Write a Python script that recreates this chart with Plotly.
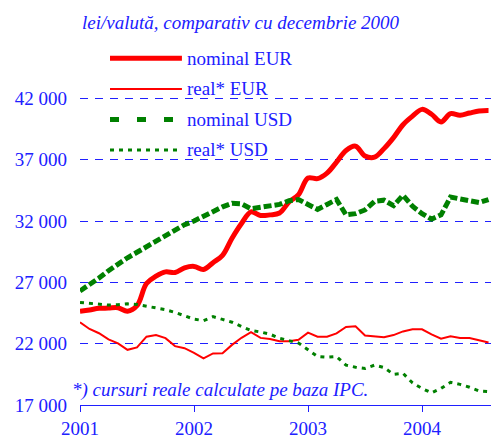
import plotly.graph_objects as go

# ---- data (monthly, Jan 2001 .. Aug 2004) ----
month_index = list(range(44))
nominal_eur = [24650, 24750, 24880, 24900, 24930, 24650, 25100, 26900, 27500, 27850,
               27800, 28180, 28300, 28050, 28600, 29200, 30600, 31800, 32750, 32450,
               32500, 32650, 33550, 34150, 35500, 35450, 35900, 36800, 37750, 38100,
               37300, 37200, 37900, 38800, 39850, 40550, 41100, 40700, 40080, 40750,
               40620, 40800, 40970, 41000]
real_eur = [23750, 23200, 22850, 22350, 22030, 21500, 21700, 22570, 22710, 22450,
            21800, 21630, 21250, 20800, 21200, 21220, 21900, 22480, 22930, 22470,
            22380, 22200, 22200, 22320, 22900, 22570, 22570, 22840, 23360, 23410,
            22660, 22570, 22520, 22700, 23000, 23170, 23170, 22760, 22400, 22600,
            22460, 22460, 22300, 22100]
nominal_usd = [26300, 26800, 27350, 27950, 28500, 29000, 29450, 29900, 30350, 30800,
               31250, 31700, 32000, 32400, 32750, 33150, 33450, 33400, 33000, 33150,
               33200, 33350, 33650, 33750, 33350, 32950, 33350, 33750, 32500, 32600,
               32900, 33600, 33700, 33250, 34100, 33200, 32600, 32150, 32500, 33950,
               33800, 33600, 33500, 33750]
real_usd = [25360, 25300, 25250, 25150, 25180, 25250, 25200, 25050, 24900, 24770,
            24550, 24300, 24000, 23880, 24200, 23980, 23750, 23400, 23080, 22950,
            22770, 22450, 22230, 22050, 21500, 20960, 20900, 20950, 20250, 20080,
            19980, 20250, 20050, 19500, 19580, 18800, 18350, 17990, 18350, 18850,
            18680, 18450, 18150, 18100]

series_names = ["nominal EUR", "real* EUR", "nominal USD", "real* USD"]
year_ticks = [2001, 2002, 2003, 2004]
year_labels = ["2001", "2002", "2003", "2004"]
y_ticks = [17000, 22000, 27000, 32000, 37000, 42000, 47000]
y_labels = ["17 000", "22 000", "27 000", "32 000", "37 000", "42 000", ""]
title_text = "lei/valută, comparativ cu decembrie 2000"
note_text = "*) cursuri reale calculate pe baza IPC."

x_years = [2001 + m / 12 for m in month_index]

BLUE = "#2020ff"
RED = "#ff0000"
GREEN = "#008000"
FONT = "Liberation Serif"

styles = [
    dict(color=RED, width=5, dash="solid", shape="spline"),
    dict(color=RED, width=2, dash="solid", shape="linear"),
    dict(color=GREEN, width=5, dash="8px,3px", shape="linear"),
    dict(color=GREEN, width=3, dash="4px,5px", shape="linear"),
]
legend_dash = ["solid", "solid", "9px,18px", "4px,5px"]

fig = go.Figure()
for name, vals, st in zip(series_names, [nominal_eur, real_eur, nominal_usd, real_usd], styles):
    fig.add_trace(go.Scatter(
        x=x_years, y=vals, mode="lines", name=name, hoverinfo="skip",
        line=dict(color=st["color"], width=st["width"], dash=st["dash"], shape=st["shape"]),
    ))

# manual legend (white box covering gridlines)
shapes = [dict(type="rect", xref="paper", yref="paper", x0=0.0195, x1=0.557, y0=0.573, y1=0.978,
               fillcolor="white", line=dict(width=0), layer="between")]
annotations = []
rows = [0.942, 0.859, 0.776, 0.693]
for name, st, ld, yr in zip(series_names, styles, legend_dash, rows):
    shapes.append(dict(type="line", xref="paper", yref="paper", x0=0.073, x1=0.248, y0=yr, y1=yr,
                       line=dict(color=st["color"], width=st["width"], dash=ld), layer="above"))
    annotations.append(dict(xref="paper", yref="paper", x=0.255, y=yr, xanchor="left", yanchor="middle",
                            text=name, showarrow=False, font=dict(family=FONT, size=19, color=BLUE)))

annotations.append(dict(xref="paper", yref="paper", x=0.0, y=1.0, xanchor="left", yanchor="bottom",
                        yshift=2, text="<i>" + title_text + "</i>", showarrow=False,
                        font=dict(family=FONT, size=19, color=BLUE)))
annotations.append(dict(xref="paper", yref="paper", x=-0.0243, y=0.04, xanchor="left", yanchor="middle",
                        text="<i>" + note_text + "</i>", showarrow=False,
                        font=dict(family=FONT, size=19, color=BLUE)))

fig.update_layout(
    width=491, height=439,
    margin=dict(l=80, r=0, t=37, b=32),
    plot_bgcolor="white", paper_bgcolor="white",
    showlegend=False,
    font=dict(family=FONT, size=19, color=BLUE),
    shapes=shapes, annotations=annotations,
    xaxis=dict(range=[2001, 2004.605], tickvals=year_ticks, ticktext=year_labels,
               showgrid=False, zeroline=False, showline=True, linecolor=BLUE, linewidth=1,
               ticks="outside", ticklen=6, tickcolor=BLUE, tickwidth=1,
               tickfont=dict(family=FONT, size=19, color=BLUE)),
    yaxis=dict(range=[17000, 47000], tickvals=y_ticks, ticktext=y_labels,
               showgrid=True, gridcolor=BLUE, gridwidth=1, griddash="8px,7px",
               zeroline=False, showline=False, ticks="", ticklabelstandoff=12,
               tickfont=dict(family=FONT, size=19, color=BLUE)),
)

fig.write_html("out.html",
               config={"displayModeBar": False, "staticPlot": True},
               post_script="document.body.style.margin='0';document.body.style.overflow='hidden';")
